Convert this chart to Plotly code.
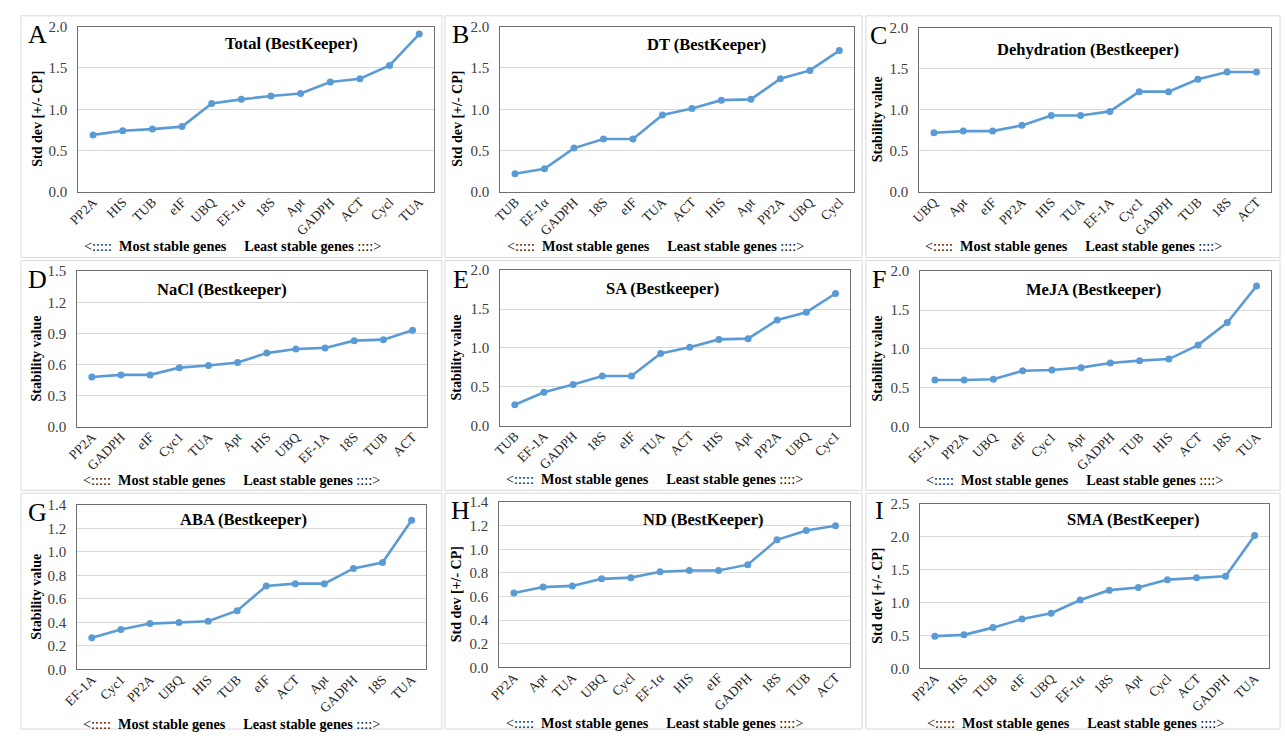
import plotly.graph_objects as go

# ---- data -------------------------------------------------------------
genes_A = ["PP2A", "HIS", "TUB", "eIF", "UBQ", "EF-1α", "18S", "Apt", "GADPH", "ACT", "Cycl", "TUA"]
vals_A = [0.69, 0.74, 0.76, 0.79, 1.07, 1.12, 1.16, 1.19, 1.33, 1.37, 1.53, 1.91]

genes_B = ["TUB", "EF-1α", "GADPH", "18S", "eIF", "TUA", "ACT", "HIS", "Apt", "PP2A", "UBQ", "Cycl"]
vals_B = [0.22, 0.28, 0.53, 0.64, 0.64, 0.93, 1.01, 1.11, 1.12, 1.37, 1.47, 1.71]

genes_C = ["UBQ", "Apt", "eIF", "PP2A", "HIS", "TUA", "EF-1A", "Cyc1", "GADPH", "TUB", "18S", "ACT"]
vals_C = [0.72, 0.74, 0.74, 0.81, 0.93, 0.93, 0.98, 1.22, 1.22, 1.37, 1.46, 1.46]

genes_D = ["PP2A", "GADPH", "eIF", "Cyc1", "TUA", "Apt", "HIS", "UBQ", "EF-1A", "18S", "TUB", "ACT"]
vals_D = [0.48, 0.50, 0.50, 0.57, 0.59, 0.62, 0.71, 0.75, 0.76, 0.83, 0.84, 0.93]

genes_E = ["TUB", "EF-1A", "GADPH", "18S", "eIF", "TUA", "ACT", "HIS", "Apt", "PP2A", "UBQ", "Cyc1"]
vals_E = [0.27, 0.43, 0.53, 0.64, 0.64, 0.93, 1.01, 1.11, 1.12, 1.36, 1.46, 1.70]

genes_F = ["EF-1A", "PP2A", "UBQ", "eIF", "Cyc1", "Apt", "GADPH", "TUB", "HIS", "ACT", "18S", "TUA"]
vals_F = [0.60, 0.60, 0.61, 0.72, 0.73, 0.76, 0.82, 0.85, 0.87, 1.05, 1.34, 1.81]

genes_G = ["EF-1A", "Cyc1", "PP2A", "UBQ", "HIS", "TUB", "eIF", "ACT", "Apt", "GADPH", "18S", "TUA"]
vals_G = [0.27, 0.34, 0.39, 0.40, 0.41, 0.50, 0.71, 0.73, 0.73, 0.86, 0.91, 1.27]

genes_H = ["PP2A", "Apt", "TUA", "UBQ", "Cycl", "EF-1α", "HIS", "eIF", "GADPH", "18S", "TUB", "ACT"]
vals_H = [0.63, 0.68, 0.69, 0.75, 0.76, 0.81, 0.82, 0.82, 0.87, 1.08, 1.16, 1.20]

genes_I = ["PP2A", "HIS", "TUB", "eIF", "UBQ", "EF-1α", "18S", "Apt", "Cycl", "ACT", "GADPH", "TUA"]
vals_I = [0.49, 0.51, 0.62, 0.75, 0.84, 1.04, 1.19, 1.23, 1.35, 1.38, 1.40, 2.02]

letters = ["A", "B", "C", "D", "E", "F", "G", "H", "I"]
titles = ["Total (BestKeeper)", "DT (BestKeeper)", "Dehydration (Bestkeeper)",
          "NaCl (Bestkeeper)", "SA (Bestkeeper)", "MeJA (Bestkeeper)",
          "ABA (Bestkeeper)", "ND (BestKeeper)", "SMA (BestKeeper)"]
ytitles = ["Std dev [+/- CP]", "Std dev [+/- CP]", "Stability value",
           "Stability value", "Stability value", "Stability value",
           "Stability value", "Std dev [+/- CP]", "Std dev [+/- CP]"]
ymax = [2.0, 2.0, 2.0, 1.5, 2.0, 2.0, 1.4, 1.4, 2.5]
ystep = [0.5, 0.5, 0.5, 0.3, 0.5, 0.5, 0.2, 0.2, 0.5]
footer = "&lt;:::::\u00a0 <b>Most stable genes</b>\u00a0\u00a0\u00a0\u00a0 <b>Least stable genes</b> ::::&gt;"

genes = [genes_A, genes_B, genes_C, genes_D, genes_E, genes_F, genes_G, genes_H, genes_I]
vals = [vals_A, vals_B, vals_C, vals_D, vals_E, vals_F, vals_G, vals_H, vals_I]

# ---- layout geometry (pixels) -----------------------------------------
W, H = 1285, 739
# plot areas: left, right, top, bottom
areas = [(64, 424, 19, 188), (491, 849, 19, 188), (915, 1271, 20, 188),
         (63, 417, 269, 428), (491, 845, 268, 427), (916, 1271, 269, 428),
         (63, 416, 508, 676), (490, 845, 505, 674), (916, 1269, 507, 675)]
title_pos = [(280, 36), (700, 37), (1086, 42), (209, 288), (655, 287), (1091, 288),
             (231, 523), (697, 523), (1131, 523)]
letter_pos = [(23, 27), (451, 27), (874, 28), (23, 278), (451, 278), (874, 277),
              (23, 516), (451, 514), (875, 514)]
ytitle_x = [22, 447, 873, 22, 447, 873, 22, 447, 873]
footer_pos = [(220, 243), (648, 243), (1071, 243), (219, 482), (647, 481), (1072, 482),
              (219, 732), (647, 731), (1073, 731)]
frames_x = [(6, 432), (435, 857), (861, 1280)]
frames_y = [(8, 255), (258, 493), (496, 737)]


def px(x):
    return x / W


def py(y):
    return 1 - y / H


SERIF = "Liberation Serif, Times New Roman, serif"
LINE = "#5B9BD5"

fig = go.Figure()
annotations = []
shapes = []

for r in range(3):
    for c in range(3):
        x0, x1 = frames_x[c]
        y0, y1 = frames_y[r]
        shapes.append(dict(type="rect", xref="paper", yref="paper",
                           x0=px(x0), x1=px(x1), y0=py(y1), y1=py(y0),
                           line=dict(color="#D9D9D9", width=1), layer="below"))

for i in range(9):
    n = str(i + 1) if i else ""
    l, rgt, t, b = areas[i]
    fig.add_trace(go.Scatter(
        x=list(range(len(genes[i]))), y=vals[i], mode="lines+markers",
        line=dict(color=LINE, width=2.6), marker=dict(color=LINE, size=7),
        xaxis="x" + n, yaxis="y" + n, showlegend=False, hoverinfo="y"))
    fig.layout["xaxis" + n] = dict(
        domain=[px(l), px(rgt)], anchor="y" + n, range=[-0.5, len(genes[i]) - 0.5],
        tickmode="array", tickvals=list(range(len(genes[i]))), ticktext=genes[i],
        tickangle=-45, ticks="", ticklabelstandoff=-4, showgrid=False, zeroline=False,
        showline=True, mirror=True, linecolor="#6F6F6F", linewidth=1.2,
        tickfont=dict(family=SERIF, size=13.5, color="#262626"), fixedrange=True)
    fig.layout["yaxis" + n] = dict(
        domain=[py(b), py(t)], anchor="x" + n, range=[0, ymax[i]],
        tickmode="linear", tick0=0, dtick=ystep[i], tickformat=".1f",
        ticks="", ticklabelstandoff=7, showgrid=True, gridcolor="#D9D9D9", gridwidth=1,
        zeroline=False, showline=True, mirror=True, linecolor="#6F6F6F", linewidth=1.2,
        tickfont=dict(family=SERIF, size=15, color="#404040"), fixedrange=True)

    annotations.append(dict(text="<b>%s</b>" % titles[i], x=px(title_pos[i][0]), y=py(title_pos[i][1]),
                            xref="paper", yref="paper", showarrow=False,
                            xanchor="center", yanchor="middle",
                            font=dict(family=SERIF, size=16.5, color="#000000")))
    annotations.append(dict(text=letters[i], x=px(letter_pos[i][0]), y=py(letter_pos[i][1]),
                            xref="paper", yref="paper", showarrow=False,
                            xanchor="center", yanchor="middle",
                            font=dict(family=SERIF, size=26, color="#000000")))
    annotations.append(dict(text="<b>%s</b>" % ytitles[i], x=px(ytitle_x[i]),
                            y=py((t + b) / 2 + 10), xref="paper", yref="paper",
                            showarrow=False, textangle=-90,
                            xanchor="center", yanchor="middle",
                            font=dict(family=SERIF, size=14, color="#000000")))
    annotations.append(dict(text=footer, x=px(footer_pos[i][0]), y=py(footer_pos[i][1]),
                            xref="paper", yref="paper", showarrow=False,
                            xanchor="center", yanchor="middle",
                            font=dict(family=SERIF, size=14.3, color="#000000")))

fig.update_layout(width=W, height=H, margin=dict(l=0, r=0, t=0, b=0),
                  paper_bgcolor="white", plot_bgcolor="white",
                  annotations=annotations, shapes=shapes)

fig.write_html("out.html", config={"displayModeBar": False})
